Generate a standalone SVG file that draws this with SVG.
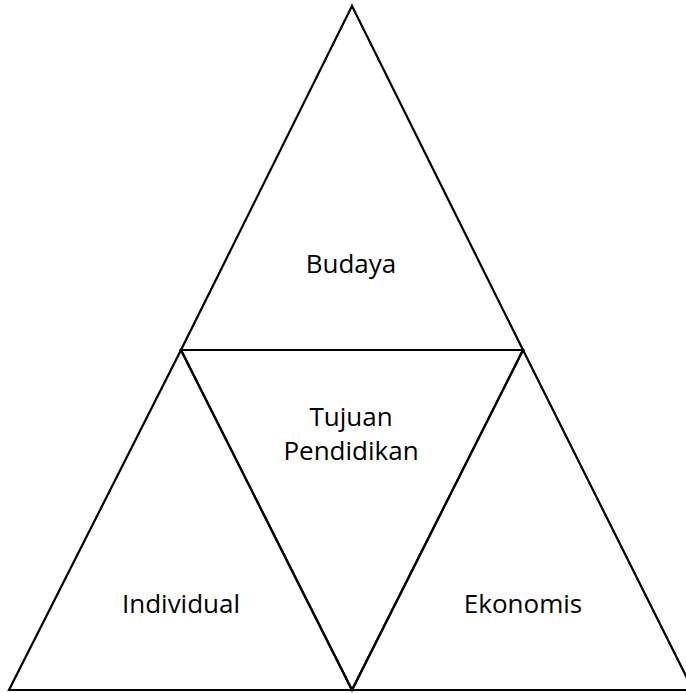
<svg xmlns="http://www.w3.org/2000/svg" width="686" height="693" viewBox="0 0 686 693">
  <style>
    .tri { fill: none; stroke: #000; stroke-width: 2.2; stroke-linejoin: miter; }
    .lbl { font-family: "Open Sans", "Noto Sans", "Liberation Sans", sans-serif; font-size: 26px; fill: #000; text-anchor: middle; }
  </style>
  <rect width="686" height="693" fill="#fff"/>
  <g id="budaya">
    <polygon class="tri" points="352,6 523,350 181,350"/>
    <text class="lbl" x="351" y="273">Budaya</text>
  </g>
  <g id="tujuan-pendidikan">
    <polygon class="tri" points="181,350 523,350 352,690"/>
    <text class="lbl" x="351" y="426">Tujuan</text>
    <text class="lbl" x="351" y="460">Pendidikan</text>
  </g>
  <g id="individual">
    <polygon class="tri" points="181,350 352,690 9,690"/>
    <text class="lbl" x="181" y="613">Individual</text>
  </g>
  <g id="ekonomis">
    <polygon class="tri" points="523,350 693,690 352,690"/>
    <text class="lbl" x="523" y="613">Ekonomis</text>
  </g>
</svg>
